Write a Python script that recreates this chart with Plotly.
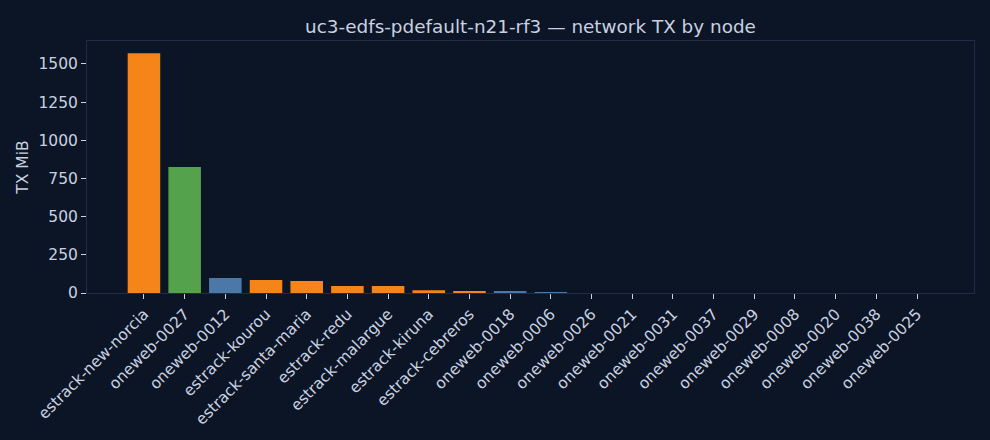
import plotly.graph_objects as go

# node names, TX volume (MiB) and bar colour per node
nodes = ['estrack-new-norcia', 'oneweb-0027', 'oneweb-0012', 'estrack-kourou',
         'estrack-santa-maria', 'estrack-redu', 'estrack-malargue', 'estrack-kiruna',
         'estrack-cebreros', 'oneweb-0018', 'oneweb-0006', 'oneweb-0026',
         'oneweb-0021', 'oneweb-0031', 'oneweb-0037', 'oneweb-0029',
         'oneweb-0008', 'oneweb-0020', 'oneweb-0038', 'oneweb-0025']
tx_mib = [1570, 825, 98, 85, 79, 46, 46, 18, 11, 10, 5, 0,
          0, 0, 0, 0, 0, 0, 0, 0]

ORANGE = '#f58518'
GREEN = '#54a24b'
BLUE = '#4c78a8'

def node_colour(name):
    if name.startswith('estrack'):
        return ORANGE
    if name == 'oneweb-0027':
        return GREEN
    return BLUE

colours = [node_colour(n) for n in nodes]

BG = '#0b1526'
TXT = '#c9d1e0'
FRAME = '#1f2d48'

fig = go.Figure(go.Bar(x=nodes, y=tx_mib, marker=dict(color=colours, line=dict(width=0)),
                       width=0.8))

fig.update_layout(
    width=990, height=440,
    paper_bgcolor=BG, plot_bgcolor=BG,
    font=dict(family='DejaVu Sans', color=TXT, size=15),
    title=dict(text='uc3-edfs-pdefault-n21-rf3 — network TX by node',
               xref='paper', x=0.5, xanchor='center', y=0.94, yanchor='middle',
               font=dict(size=18.4, color=TXT)),
    margin=dict(l=87, r=16, t=41, b=147),
    showlegend=False,
    bargap=0.2,
)
fig.update_xaxes(range=[-1.4, 20.4], tickangle=-45, showgrid=False,
                 showline=True, linecolor=FRAME, linewidth=1, mirror=True,
                 ticks='outside', ticklen=5, tickcolor=TXT,
                 tickfont=dict(size=15.5, color=TXT))
fig.update_yaxes(range=[0, 1650], tickvals=[0, 250, 500, 750, 1000, 1250, 1500],
                 showgrid=False, zeroline=False,
                 showline=True, linecolor=FRAME, linewidth=1, mirror=True,
                 ticks='outside', ticklen=5, tickcolor=TXT,
                 tickfont=dict(size=15.5, color=TXT),
                 title=dict(text='TX MiB', font=dict(size=15.5, color=TXT), standoff=6))

# drop the browser's default white page margin
fig.write_html("out.html", config={'displayModeBar': False},
               post_script="document.body.style.margin='0';document.body.style.background='#0b1526';")
